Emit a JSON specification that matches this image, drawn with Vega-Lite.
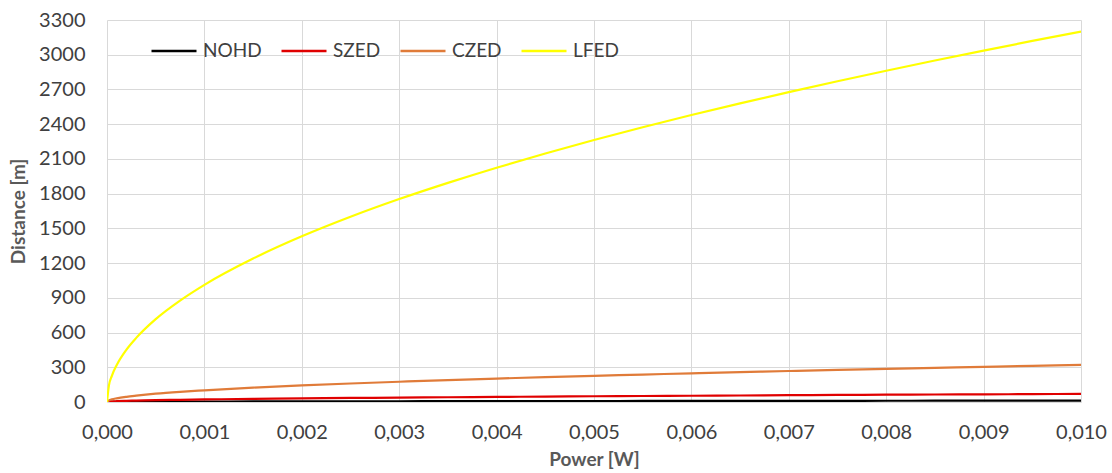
{
  "$schema": "https://vega.github.io/schema/vega-lite/v6.json",
  "width": 974,
  "height": 382,
  "autosize": "none",
  "padding": {"left": 107, "top": 20, "right": 31, "bottom": 71},
  "background": "white",
  "config": {
    "locale": {"number": {"decimal": ",", "thousands": ".", "grouping": [3], "currency": ["", ""]}},
    "view": {"stroke": null},
    "font": "Lato"
  },
  "data": {
    "values": [
      {"p": 0, "NOHD": 0, "SZED": 0, "CZED": 0, "LFED": 0},
      {"p": 0.00002, "NOHD": 0.5, "SZED": 3, "CZED": 14, "LFED": 143},
      {"p": 0.00005, "NOHD": 0.8, "SZED": 5, "CZED": 23, "LFED": 226},
      {"p": 0.0001, "NOHD": 1.2, "SZED": 7, "CZED": 32, "LFED": 320},
      {"p": 0.0002, "NOHD": 1.7, "SZED": 10, "CZED": 45, "LFED": 453},
      {"p": 0.0003, "NOHD": 2.1, "SZED": 12, "CZED": 55, "LFED": 554},
      {"p": 0.0005, "NOHD": 2.7, "SZED": 16, "CZED": 72, "LFED": 716},
      {"p": 0.00075, "NOHD": 3.3, "SZED": 19, "CZED": 88, "LFED": 876},
      {"p": 0.001, "NOHD": 3.8, "SZED": 22, "CZED": 101, "LFED": 1012},
      {"p": 0.0015, "NOHD": 4.6, "SZED": 27, "CZED": 124, "LFED": 1239},
      {"p": 0.002, "NOHD": 5.4, "SZED": 31, "CZED": 143, "LFED": 1431},
      {"p": 0.0025, "NOHD": 6, "SZED": 35, "CZED": 160, "LFED": 1600},
      {"p": 0.003, "NOHD": 6.6, "SZED": 38, "CZED": 175, "LFED": 1753},
      {"p": 0.0035, "NOHD": 7.1, "SZED": 41, "CZED": 189, "LFED": 1893},
      {"p": 0.004, "NOHD": 7.6, "SZED": 44, "CZED": 202, "LFED": 2024},
      {"p": 0.0045, "NOHD": 8, "SZED": 47, "CZED": 215, "LFED": 2147},
      {"p": 0.005, "NOHD": 8.5, "SZED": 49.5, "CZED": 226, "LFED": 2263},
      {"p": 0.0055, "NOHD": 8.9, "SZED": 52, "CZED": 237, "LFED": 2373},
      {"p": 0.006, "NOHD": 9.3, "SZED": 54, "CZED": 248, "LFED": 2479},
      {"p": 0.0065, "NOHD": 9.7, "SZED": 56, "CZED": 258, "LFED": 2580},
      {"p": 0.007, "NOHD": 10, "SZED": 59, "CZED": 268, "LFED": 2677},
      {"p": 0.0075, "NOHD": 10.4, "SZED": 61, "CZED": 277, "LFED": 2771},
      {"p": 0.008, "NOHD": 10.7, "SZED": 63, "CZED": 286, "LFED": 2862},
      {"p": 0.0085, "NOHD": 11.1, "SZED": 65, "CZED": 295, "LFED": 2950},
      {"p": 0.009, "NOHD": 11.4, "SZED": 66, "CZED": 304, "LFED": 3036},
      {"p": 0.0095, "NOHD": 11.7, "SZED": 68, "CZED": 312, "LFED": 3119},
      {"p": 0.01, "NOHD": 12, "SZED": 70, "CZED": 320, "LFED": 3200}
    ]
  },
  "transform": [
    {"fold": ["NOHD", "SZED", "CZED", "LFED"], "as": ["series", "d"]}
  ],
  "mark": {"type": "line", "strokeWidth": 2.2, "interpolate": "monotone", "clip": true},
  "encoding": {
    "x": {
      "field": "p", "type": "quantitative", "title": "Power [W]",
      "scale": {"domain": [0, 0.01], "nice": false},
      "axis": {
        "values": [0, 0.001, 0.002, 0.003, 0.004, 0.005, 0.006, 0.007, 0.008, 0.009, 0.01],
        "format": ".3f", "domain": false, "ticks": false, "labelPadding": 20,
        "labelFontSize": 20, "labelColor": "#404040", "labelFont": "Lato",
        "labelFlush": false,
        "grid": true, "gridColor": "#d9d9d9", "gridWidth": 1,
        "titleFontSize": 19, "titleFontWeight": "bold", "titleColor": "#595959", "titlePadding": 8
      }
    },
    "y": {
      "field": "d", "type": "quantitative", "title": "Distance [m]",
      "scale": {"domain": [0, 3300], "nice": false},
      "axis": {
        "values": [0, 300, 600, 900, 1200, 1500, 1800, 2100, 2400, 2700, 3000, 3300],
        "format": "d", "domain": false, "ticks": false, "labelPadding": 22,
        "labelFontSize": 20, "labelColor": "#404040",
        "grid": true, "gridColor": "#d9d9d9", "gridWidth": 1,
        "titleFontSize": 19, "titleFontWeight": "bold", "titleColor": "#595959", "titlePadding": 10
      }
    },
    "color": {
      "field": "series", "type": "nominal", "title": null,
      "scale": {"domain": ["NOHD", "SZED", "CZED", "LFED"], "range": ["#000000", "#e00000", "#e07b39", "#ffff00"]},
      "legend": {
        "orient": "none", "legendX": 43, "legendY": 7, "direction": "horizontal",
        "symbolType": "stroke", "symbolSize": 2025, "symbolStrokeWidth": 2.5,
        "labelFontSize": 19, "labelColor": "#404040", "labelOffset": 5, "columnPadding": 14
      }
    }
  }
}
